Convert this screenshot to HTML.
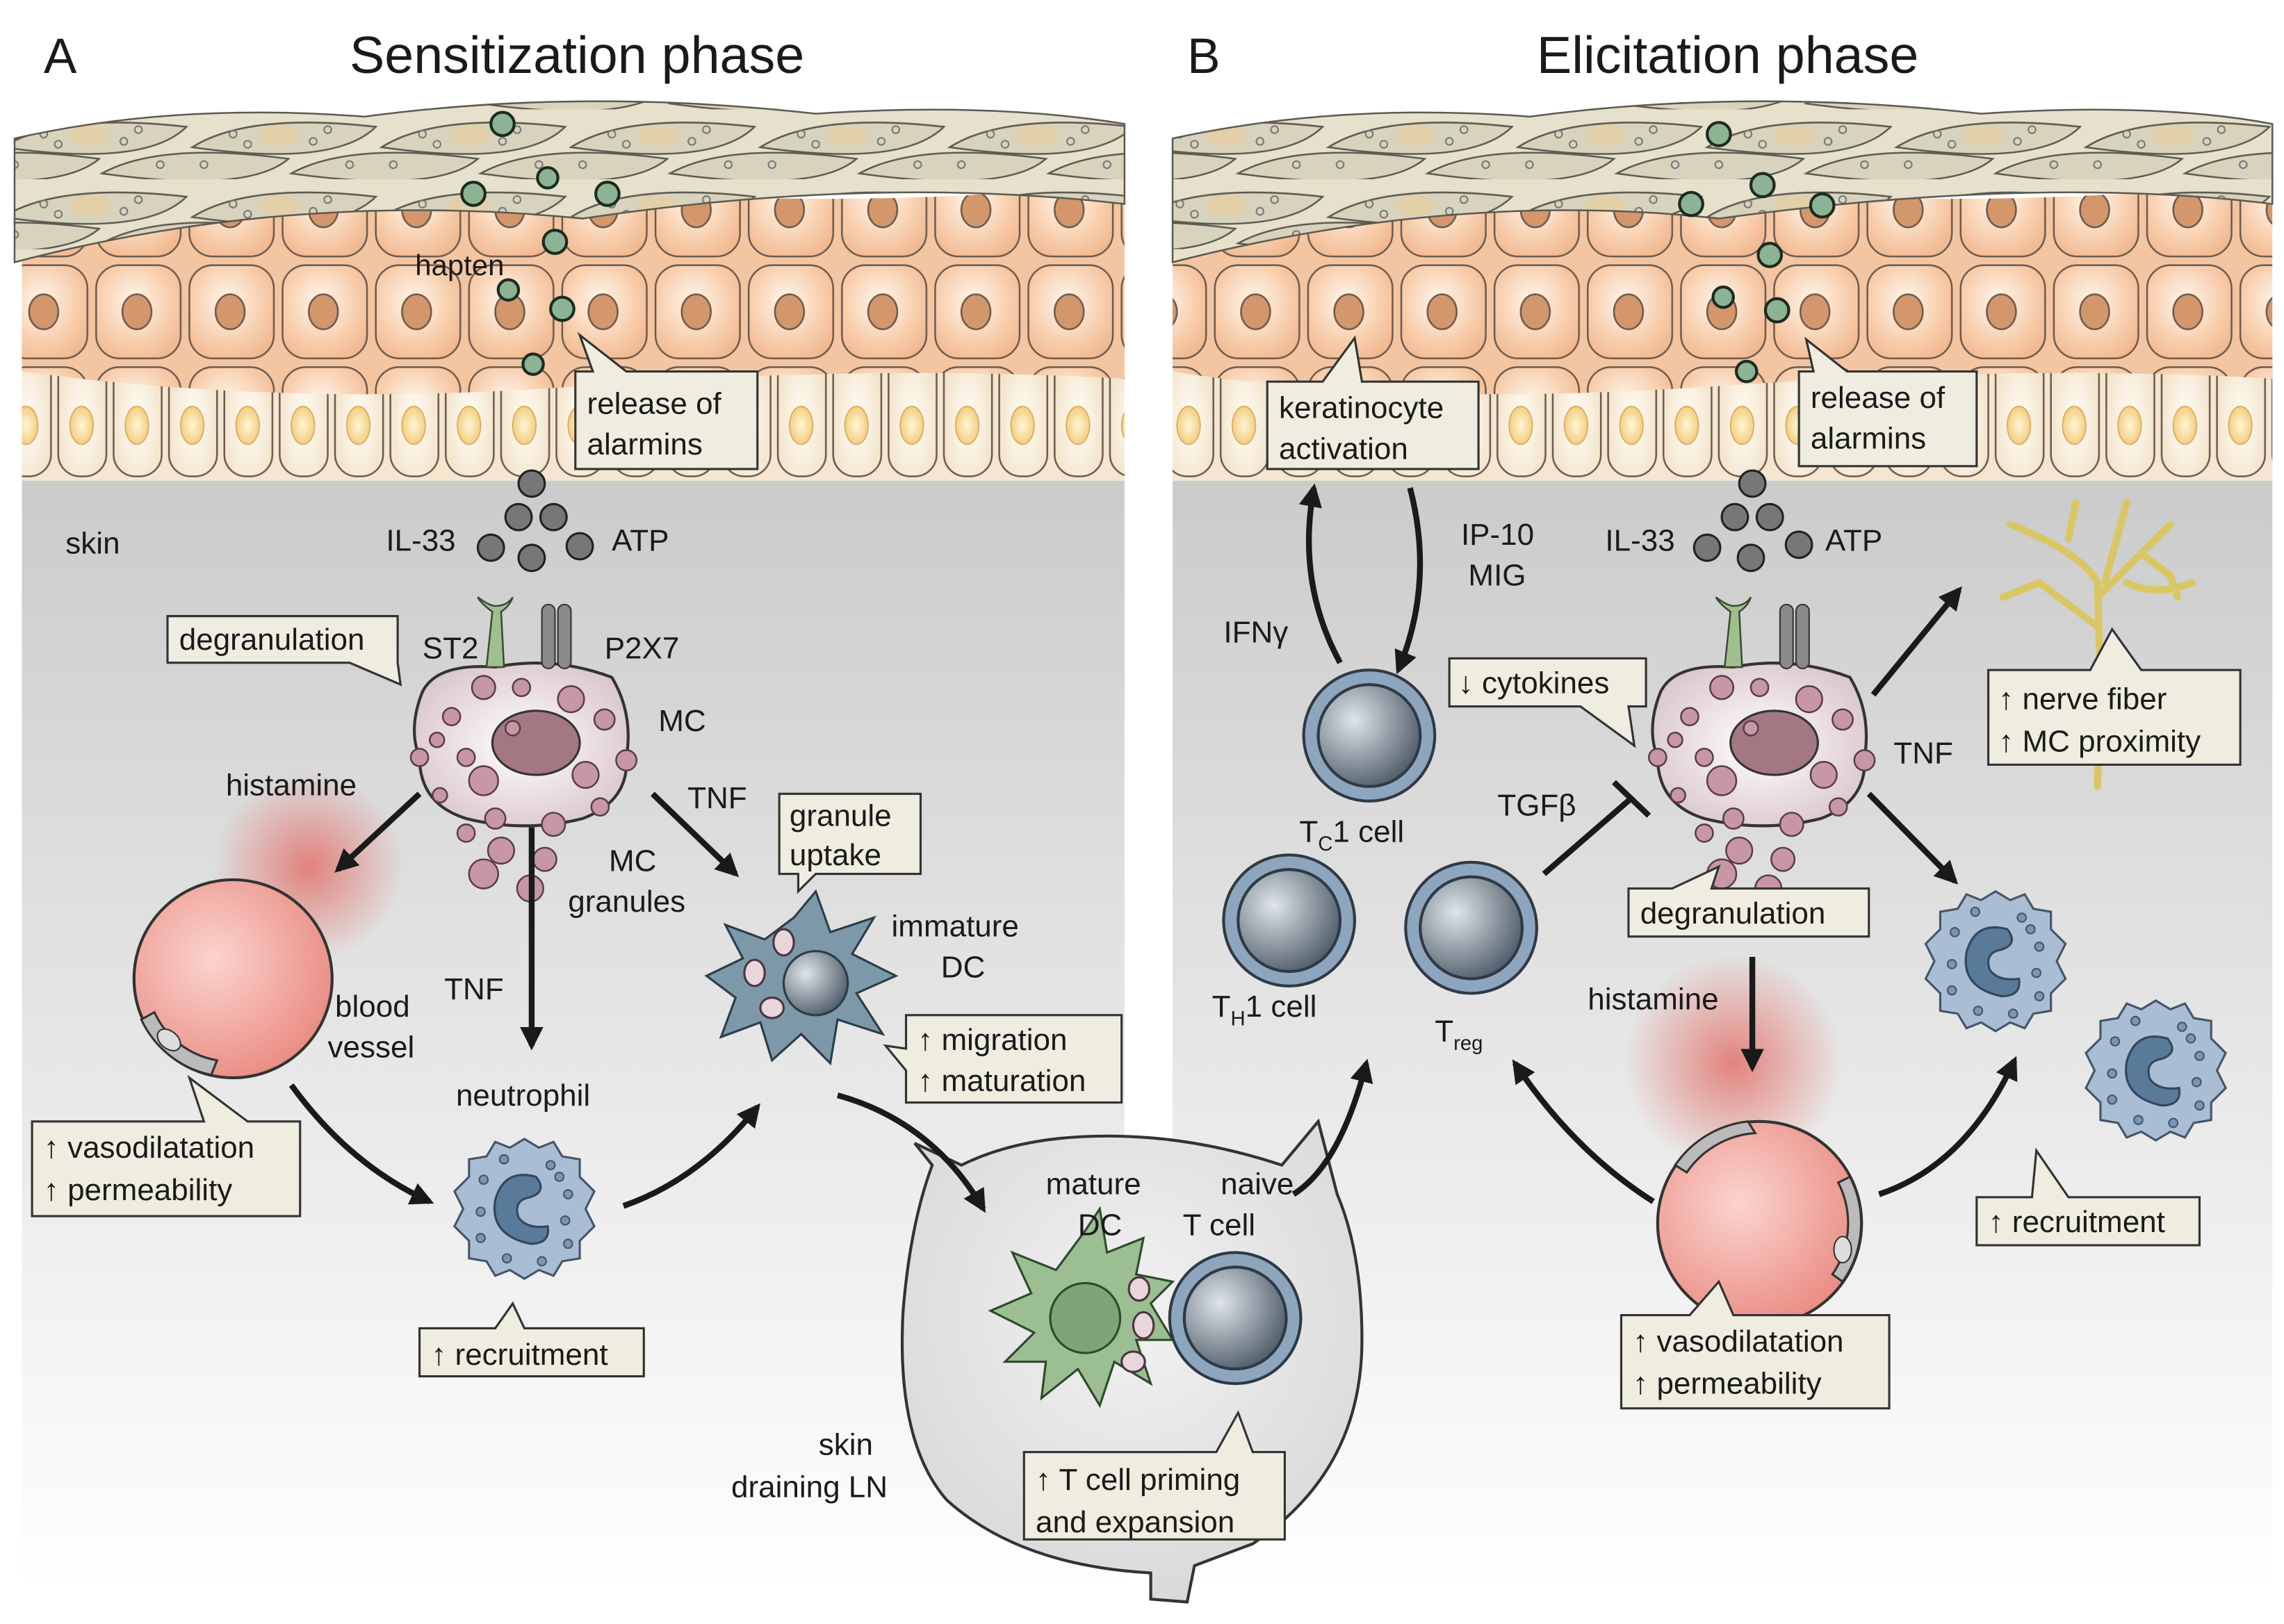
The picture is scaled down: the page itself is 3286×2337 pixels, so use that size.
<!DOCTYPE html>
<html><head><meta charset="utf-8"><style>
html,body{margin:0;padding:0;background:#fff;}
svg{display:block;}
text{font-family:"Liberation Sans",sans-serif;fill:#1a1a1a;}
</style></head><body>
<svg width="3286" height="2337" viewBox="0 0 1568 1115" xmlns="http://www.w3.org/2000/svg">
<defs>
<linearGradient id="bg" x1="0" y1="0" x2="0" y2="1">
<stop offset="0" stop-color="#c9c9c9"/><stop offset="0.45" stop-color="#e2e2e2"/><stop offset="1" stop-color="#ffffff"/>
</linearGradient>
<radialGradient id="orc" cx="0.45" cy="0.4" r="0.7">
<stop offset="0" stop-color="#fff7ef"/><stop offset="0.6" stop-color="#f8cfae"/><stop offset="1" stop-color="#f0b68c"/>
</radialGradient>
<radialGradient id="bc" cx="0.5" cy="0.6" r="0.7">
<stop offset="0" stop-color="#fffdf6"/><stop offset="1" stop-color="#efdcbf"/>
</radialGradient>
<radialGradient id="ycn" cx="0.5" cy="0.5" r="0.6">
<stop offset="0" stop-color="#fff6d8"/><stop offset="1" stop-color="#f1c66e"/>
</radialGradient>
<pattern id="pOr" x="0" y="110" width="64" height="70" patternUnits="userSpaceOnUse">
<rect width="64" height="70" fill="#f3c5a1"/>
<rect x="2" y="2" width="58" height="64" rx="16" fill="url(#orc)" stroke="#6d5a4d" stroke-width="1.2"/>
<ellipse cx="30" cy="34" rx="10" ry="12" fill="#d4966b" stroke="#6d5a4d" stroke-width="1.2"/>
</pattern>
<pattern id="pBa" x="0" y="230" width="38" height="100" patternUnits="userSpaceOnUse">
<rect width="38" height="100" fill="#f4e6cf"/>
<rect x="2" y="3" width="33" height="94" rx="15" fill="url(#bc)" stroke="#6d5a4d" stroke-width="1.2"/>
<ellipse cx="18" cy="62" rx="8" ry="13" fill="url(#ycn)" stroke="#d9a85a" stroke-width="0.8"/>
</pattern>
<pattern id="pCo" x="0" y="75" width="130" height="48" patternUnits="userSpaceOnUse">
<rect width="130" height="48" fill="#e6e1cc"/>
<path d="M2,26 Q40,2 128,12 Q100,40 2,26Z" fill="#d8d3bd" stroke="#5d5a50" stroke-width="1.2"/>
<path d="M-60,44 Q-20,22 68,34 Q40,58 -60,44Z" fill="#d8d3bd" stroke="#5d5a50" stroke-width="1.2"/>
<path d="M70,44 Q110,22 198,34 Q170,58 70,44Z" fill="#d8d3bd" stroke="#5d5a50" stroke-width="1.2"/>
<ellipse cx="62" cy="18" rx="14" ry="7" fill="#e3cfa8"/>
<circle cx="30" cy="17" r="2.5" fill="none" stroke="#777" /><circle cx="95" cy="14" r="2.5" fill="none" stroke="#777"/>
<circle cx="40" cy="24" r="2.5" fill="none" stroke="#777"/><circle cx="85" cy="22" r="2.5" fill="none" stroke="#777"/>
<circle cx="10" cy="38" r="2.5" fill="none" stroke="#777"/><circle cx="110" cy="38" r="2.5" fill="none" stroke="#777"/>
</pattern>
<radialGradient id="glow"><stop offset="0" stop-color="#e2726a" stop-opacity="0.85"/><stop offset="1" stop-color="#e2726a" stop-opacity="0"/></radialGradient>
<radialGradient id="ves" cx="0.4" cy="0.4" r="0.7"><stop offset="0" stop-color="#fbd4cf"/><stop offset="1" stop-color="#e8867c"/></radialGradient>
<radialGradient id="mc" cx="0.5" cy="0.5" r="0.6"><stop offset="0" stop-color="#ffffff"/><stop offset="1" stop-color="#d8c3cc"/></radialGradient>
<radialGradient id="tc" cx="0.35" cy="0.35" r="0.8"><stop offset="0" stop-color="#dfe5ea"/><stop offset="1" stop-color="#3d4b59"/></radialGradient>
<radialGradient id="ln" cx="0.5" cy="0.4" r="0.7"><stop offset="0" stop-color="#f2f2f2"/><stop offset="1" stop-color="#d5d5d5"/></radialGradient>
<marker id="ar" viewBox="0 0 10 10" refX="8" refY="5" markerWidth="4" markerHeight="4" orient="auto"><path d="M0,0L10,5L0,10Z" fill="#1a1a1a"/></marker>
<g id="neut">
<path d="M0,-48 L10,-42 L20,-46 L26,-36 L38,-34 L38,-22 L48,-12 L42,0 L48,12 L38,22 L38,34 L26,36 L20,46 L10,42 L0,48 L-10,42 L-20,46 L-26,36 L-38,34 L-38,22 L-48,12 L-42,0 L-48,-12 L-38,-22 L-38,-34 L-26,-36 L-20,-46 L-10,-42Z" fill="#a9bed4" stroke="#45556a" stroke-width="1.5"/>
<path d="M8,-22 Q-14,-28 -20,-6 Q-24,18 4,24 Q18,24 16,12 Q2,14 -4,6 Q-8,-6 4,-8 Q16,-12 8,-22Z" fill="#5a7a9a" stroke="#34475c" stroke-width="1.5"/>
<g fill="#7b96b3" stroke="#45556a"><circle cx="-28" cy="-20" r="3"/><circle cx="-14" cy="-34" r="3"/><circle cx="18" cy="-30" r="3"/><circle cx="30" cy="-10" r="3"/><circle cx="28" cy="8" r="3"/><circle cx="30" cy="24" r="3"/><circle cx="12" cy="36" r="3"/><circle cx="-12" cy="34" r="3"/><circle cx="-30" cy="20" r="3"/><circle cx="-30" cy="2" r="3"/><circle cx="24" cy="-22" r="3"/></g>
</g>
<g id="tcell"><circle r="45" fill="#8ea6bd" stroke="#2f3a46" stroke-width="2"/><circle r="35" fill="url(#tc)" stroke="#2f3a46" stroke-width="2"/></g>
<g id="mast">
<path d="M-70,-35 Q-60,-55 -20,-52 Q20,-60 60,-45 Q75,-20 70,10 Q72,40 40,52 Q0,62 -40,52 Q-72,42 -72,10 Q-80,-10 -70,-35Z" fill="url(#mc)" stroke="#333" stroke-width="2"/>
<ellipse cx="8" cy="0" rx="30" ry="22" fill="#a37882" stroke="#333" stroke-width="1.5"/>
<g fill="#c797a6" stroke="#5a3d45" stroke-width="1.2">
<circle cx="-28" cy="-38" r="8"/><circle cx="-2" cy="-38" r="6"/><circle cx="32" cy="-30" r="9"/><circle cx="55" cy="-16" r="7"/><circle cx="-50" cy="-18" r="6"/>
<circle cx="-40" cy="10" r="6"/><circle cx="-28" cy="26" r="10"/><circle cx="42" cy="22" r="9"/><circle cx="-72" cy="10" r="6"/><circle cx="70" cy="12" r="7"/>
<circle cx="-58" cy="36" r="5"/><circle cx="-20" cy="52" r="7"/><circle cx="20" cy="56" r="8"/><circle cx="52" cy="44" r="6"/>
<circle cx="-8" cy="-10" r="5"/><circle cx="-60" cy="-2" r="5"/></g>
<g fill="#c797a6" stroke="#5a3d45" stroke-width="1.2">
<circle cx="-40" cy="62" r="6"/><circle cx="-16" cy="74" r="9"/><circle cx="14" cy="80" r="8"/><circle cx="-28" cy="90" r="10"/><circle cx="4" cy="100" r="9"/></g>
<path d="M-26,-52 L-22,-90 Q-30,-96 -32,-100 Q-24,-94 -20,-94 Q-12,-94 -8,-100 Q-10,-94 -16,-90 L-14,-52Z" fill="#9fbf8f" stroke="#3a4a34" stroke-width="1.2"/>
<rect x="12" y="-95" width="9" height="44" rx="4.5" fill="#8a8a8a" stroke="#333"/><rect x="23" y="-95" width="9" height="44" rx="4.5" fill="#8a8a8a" stroke="#333"/>
</g>
</defs>

<rect width="1568" height="1115" fill="#fff"/>
<!-- Panel A -->
<rect x="15" y="300" width="757" height="790" fill="url(#bg)"/>
<rect x="15" y="225" width="757" height="105" fill="url(#pBa)"/>
<path d="M15,130 Q200,115 400,130 T772,125 L772,260 Q600,250 400,265 T15,255Z" fill="url(#pOr)"/>
<path d="M10,95 Q120,70 250,80 Q400,60 560,78 Q680,70 772,85 L772,140 Q600,120 400,150 Q200,130 10,180Z" fill="url(#pCo)" stroke="#5d5a50" stroke-width="1.2"/>
<!-- Panel B -->
<rect x="805" y="300" width="755" height="790" fill="url(#bg)"/>
<rect x="805" y="225" width="755" height="105" fill="url(#pBa)"/>
<path d="M805,130 Q1000,115 1180,130 T1560,125 L1560,260 Q1400,250 1180,265 T805,255Z" fill="url(#pOr)"/>
<path d="M805,95 Q920,70 1050,80 Q1200,60 1360,78 Q1480,70 1560,85 L1560,140 Q1400,120 1180,150 Q1000,130 805,180Z" fill="url(#pCo)" stroke="#5d5a50" stroke-width="1.2"/>

<text x="30" y="50" font-size="34">A</text>
<text x="240" y="50" font-size="36">Sensitization phase</text>
<text x="815" y="50" font-size="34">B</text>
<text x="1055" y="50" font-size="36">Elicitation phase</text>

<!-- Lymph node (drawn early so labels sit on top) -->
<path d="M640,800 L628,785 L660,800 Q700,780 760,780 Q820,780 880,800 L905,770 L918,820 Q935,860 935,920 Q935,1010 860,1060 L820,1075 L815,1100 L790,1098 L790,1080 Q700,1075 650,1030 Q615,990 620,900 Q625,840 640,800Z" fill="url(#ln)" stroke="#333" stroke-width="2"/>
<path d="M745,845 L755,830 L760,860 L785,850 L780,875 L805,880 L790,895 L805,920 L780,920 L790,950 L765,935 L755,965 L740,940 L715,960 L718,935 L690,935 L710,915 L680,900 L708,888 L695,860 L725,872Z" fill="#9bbf93" stroke="#2e4a2c" stroke-width="1.5"/>
<circle cx="745" cy="905" r="24" fill="#7fa478" stroke="#2e4a2c" stroke-width="1.5"/>
<g fill="#e8d6dc" stroke="#4d3540" stroke-width="1.5"><ellipse cx="782" cy="885" rx="7" ry="8"/><ellipse cx="785" cy="910" rx="7" ry="9"/><ellipse cx="778" cy="935" rx="8" ry="7"/></g>
<use href="#tcell" x="848" y="905"/>

<!-- haptens -->
<g fill="#8cb394" stroke="#1d2b1f" stroke-width="2">
<circle cx="345" cy="85" r="8"/><circle cx="325" cy="133" r="8"/><circle cx="376" cy="122" r="7"/><circle cx="417" cy="133" r="8"/><circle cx="381" cy="166" r="8"/><circle cx="349" cy="199" r="7"/><circle cx="386" cy="212" r="8"/><circle cx="366" cy="250" r="7"/>
<circle cx="1180" cy="92" r="8"/><circle cx="1161" cy="140" r="8"/><circle cx="1210" cy="127" r="8"/><circle cx="1251" cy="141" r="8"/><circle cx="1215" cy="175" r="8"/><circle cx="1183" cy="204" r="7"/><circle cx="1220" cy="213" r="8"/><circle cx="1199" cy="255" r="7"/></g>
<text x="285" y="189" font-size="20">hapten</text>

<!-- alarmins -->
<g fill="#777" stroke="#222" stroke-width="1.5">
<circle cx="365" cy="332" r="9"/><circle cx="356" cy="355" r="9"/><circle cx="380" cy="355" r="9"/><circle cx="337" cy="376" r="9"/><circle cx="365" cy="383" r="9"/><circle cx="398" cy="375" r="9"/>
<circle cx="1203" cy="332" r="9"/><circle cx="1191" cy="355" r="9"/><circle cx="1215" cy="355" r="9"/><circle cx="1172" cy="376" r="9"/><circle cx="1202" cy="383" r="9"/><circle cx="1235" cy="374" r="9"/></g>
<g font-size="21">
<text x="45" y="380">skin</text>
<text x="265" y="378">IL-33</text><text x="420" y="378">ATP</text>
<text x="1102" y="378">IL-33</text><text x="1253" y="378">ATP</text>
</g>

<!-- Panel A cells -->
<circle cx="212" cy="595" r="65" fill="url(#glow)"/>
<circle cx="160" cy="672" r="68" fill="url(#ves)" stroke="#333" stroke-width="2"/>
<path d="M97,700 A68,68 0 0 0 145,738 L149,728 A58,58 0 0 1 106,695Z" fill="#bbb" stroke="#333" stroke-width="1.5"/>
<ellipse cx="116" cy="714" rx="9" ry="6" fill="#ddd" stroke="#333" transform="rotate(40 116 714)"/>
<use href="#mast" x="360" y="510"/>
<use href="#neut" x="360" y="830"/>
<path d="M545,630 L560,612 L570,640 L600,630 L585,655 L615,670 L588,682 L606,710 L575,700 L570,730 L550,710 L530,728 L522,702 L495,712 L505,685 L485,670 L510,658 L498,635 L525,645Z" fill="#7d98a9" stroke="#2c3d48" stroke-width="1.5"/>
<circle cx="560" cy="675" r="22" fill="url(#tc)" stroke="#2c3d48" stroke-width="1.5"/>
<g fill="#e8d6dc" stroke="#4d3540" stroke-width="1.5"><ellipse cx="538" cy="647" rx="7" ry="9"/><ellipse cx="518" cy="668" rx="7" ry="9"/><ellipse cx="530" cy="692" rx="8" ry="7"/></g>

<!-- Panel B cells -->
<use href="#mast" x="1210" y="510"/>
<use href="#tcell" x="940" y="505"/>
<use href="#tcell" x="885" y="632"/>
<use href="#tcell" x="1010" y="637"/>
<use href="#neut" x="1370" y="660"/>
<use href="#neut" x="1480" y="735"/>
<circle cx="1190" cy="730" r="75" fill="url(#glow)"/>
<circle cx="1208" cy="840" r="70" fill="url(#ves)" stroke="#333" stroke-width="2"/>
<path d="M1150,800 A70,70 0 0 1 1200,770 L1205,778 A62,62 0 0 0 1158,805Z" fill="#bbb" stroke="#333" stroke-width="1.5"/>
<path d="M1270,808 A70,70 0 0 1 1265,880 L1258,875 A62,62 0 0 0 1262,812Z" fill="#bbb" stroke="#333" stroke-width="1.5"/>
<ellipse cx="1265" cy="858" rx="6" ry="9" fill="#ddd" stroke="#333"/>
<g stroke="#d9c766" stroke-width="5" fill="none" stroke-linecap="round">
<path d="M1440,540 L1442,470 L1440,400 Q1430,380 1380,360"/>
<path d="M1440,410 Q1460,390 1490,360"/><path d="M1440,430 L1400,400 L1375,410"/>
<path d="M1445,400 L1460,345"/><path d="M1460,400 Q1480,410 1505,400"/>
<path d="M1420,370 L1425,345"/><path d="M1470,380 L1490,395 L1495,410"/>
</g>

<!-- callouts -->
<g fill="#efede0" stroke="#333" stroke-width="1.5">
<path d="M395,255 L407,255 L398,230 L430,255 L520,255 L520,322 L395,322Z"/>
<path d="M115,423 L273,423 L273,455 L275,470 L240,455 L115,455Z"/>
<path d="M535,545 L632,545 L632,600 L560,600 L548,612 L548,600 L535,600Z"/>
<path d="M622,697 L770,697 L770,757 L622,757 L622,735 L608,718 L622,720Z"/>
<path d="M22,770 L140,770 L130,740 L170,770 L206,770 L206,835 L22,835Z"/>
<path d="M288,912 L340,912 L352,895 L360,912 L442,912 L442,945 L288,945Z"/>
<path d="M703,997 L835,997 L850,970 L860,997 L882,997 L882,1057 L703,1057Z"/>
<path d="M870,262 L908,262 L930,232 L935,262 L1015,262 L1015,322 L870,322Z"/>
<path d="M1235,255 L1245,255 L1240,233 L1268,255 L1357,255 L1357,320 L1235,320Z"/>
<path d="M995,452 L1130,452 L1130,485 L1118,485 L1122,512 L1085,485 L995,485Z"/>
<path d="M1365,460 L1435,460 L1450,432 L1470,460 L1538,460 L1538,525 L1365,525Z"/>
<path d="M1118,610 L1148,610 L1180,595 L1175,610 L1283,610 L1283,643 L1118,643Z"/>
<path d="M1113,903 L1160,903 L1180,880 L1190,903 L1297,903 L1297,967 L1113,967Z"/>
<path d="M1357,822 L1395,822 L1398,790 L1420,822 L1510,822 L1510,855 L1357,855Z"/>
</g>
<g font-size="21">
<text x="403" y="284">release of</text><text x="403" y="312">alarmins</text>
<text x="123" y="446">degranulation</text>
<text x="542" y="567">granule</text><text x="542" y="594">uptake</text>
<text x="630" y="721">↑ migration</text><text x="630" y="749">↑ maturation</text>
<text x="30" y="795">↑ vasodilatation</text><text x="30" y="824">↑ permeability</text>
<text x="296" y="937">↑ recruitment</text>
<text x="711" y="1023">↑ T cell priming</text><text x="711" y="1052">and expansion</text>
<text x="878" y="287">keratinocyte</text><text x="878" y="315">activation</text>
<text x="1243" y="280">release of</text><text x="1243" y="308">alarmins</text>
<text x="1001" y="476">↓ cytokines</text>
<text x="1372" y="487">↑ nerve fiber</text><text x="1372" y="516">↑ MC proximity</text>
<text x="1126" y="634">degranulation</text>
<text x="1121" y="928">↑ vasodilatation</text><text x="1121" y="957">↑ permeability</text>
<text x="1365" y="846">↑ recruitment</text>
</g>

<g font-size="21">
<text x="290" y="452">ST2</text><text x="415" y="452">P2X7</text>
<text x="452" y="502">MC</text>
<text x="418" y="598">MC</text><text x="390" y="626">granules</text>
<text x="155" y="546">histamine</text>
<text x="230" y="698">blood</text><text x="225" y="726">vessel</text>
<text x="305" y="686">TNF</text>
<text x="472" y="555">TNF</text>
<text x="612" y="643">immature</text><text x="646" y="671">DC</text>
<text x="313" y="759">neutrophil</text>
<text x="562" y="999">skin</text><text x="502" y="1028">draining LN</text>
<text x="718" y="820">mature</text><text x="740" y="848">DC</text>
<text x="838" y="820">naive</text><text x="812" y="848">T cell</text>
<text x="1003" y="374">IP-10</text><text x="1008" y="402">MIG</text>
<text x="840" y="441">IFNγ</text>
<text x="1300" y="524">TNF</text>
<text x="1028" y="560">TGFβ</text>
<text x="1090" y="693">histamine</text>
<text x="892" y="578">T<tspan font-size="14" dy="6">C</tspan><tspan dy="-6">1 cell</tspan></text>
<text x="832" y="698">T<tspan font-size="14" dy="6">H</tspan><tspan dy="-6">1 cell</tspan></text>
<text x="985" y="715">T<tspan font-size="14" dy="6">reg</tspan></text>
</g>

<!-- arrows -->
<g stroke="#1a1a1a" stroke-width="4" fill="none" marker-end="url(#ar)">
<path d="M288,545 L232,597"/>
<path d="M365,568 L365,718"/>
<path d="M448,545 L505,600"/>
<path d="M200,745 Q240,800 295,825"/>
<path d="M428,828 Q480,810 520,760"/>
<path d="M575,752 Q640,770 675,830"/>
<path d="M888,820 Q920,800 938,730"/>
<path d="M920,455 Q890,400 902,335"/>
<path d="M968,335 Q985,400 960,460"/>
<path d="M1286,477 L1345,405"/>
<path d="M1283,545 L1342,605"/>
<path d="M1203,657 L1203,733"/>
<path d="M1135,825 Q1080,790 1040,730"/>
<path d="M1290,820 Q1350,800 1383,728"/>
</g>
<path d="M1060,600 L1120,548" stroke="#1a1a1a" stroke-width="4"/>
<path d="M1108,537 L1132,560" stroke="#1a1a1a" stroke-width="4"/>
</svg>
</body></html>
